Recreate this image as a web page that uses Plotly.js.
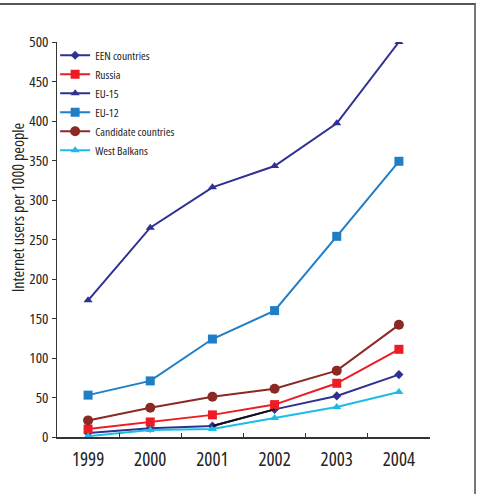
<!DOCTYPE html>
<html>
<head>
<meta charset="utf-8">
<script src="https://cdn.plot.ly/plotly-3.0.1.min.js"></script>
<style>
html,body{margin:0;padding:0;background:#fff;}
#chart{width:476px;height:491px;margin-top:3px;border-top:2px solid #555;border-right:2px solid #777;box-sizing:border-box;}
#chart text{font-stretch:condensed !important;}
</style>
</head>
<body>
<div id="chart"></div>
<script>
const years = ['1999','2000','2001','2002','2003','2004'];
const seriesNames = ['EEN countries','Russia','EU-15','EU-12','Candidate countries','West Balkans'];
const een = [5, 11, 14, 35, 52, 79];
const russia = [10, 19, 28, 41, 68, 111];
const eu15 = [173, 265, 316, 343, 397, 500];
const eu12 = [53, 71, 124, 160, 254, 349];
const candidate = [21, 37, 51, 61, 84, 142];
const westBalkans = [1, 9, 10, 24, 38, 57];
const yTicks = [0,50,100,150,200,250,300,350,400,450,500];
const yTitle = 'Internet users per 1000 people';

const FONT = '"Open Sans", sans-serif';

function tr(name, y, color, symbol, size){
  return {x: years, y: y, name: name, type:'scatter', mode:'lines+markers',
    line:{color: color, width:2}, marker:{color: color, symbol: symbol, size: size}};
}
const traces = [
  tr(seriesNames[0], een, '#2E3192', 'diamond', 7),
  tr(seriesNames[1], russia, '#ED1C24', 'square', 9),
  tr(seriesNames[2], eu15, '#2E3192', 'triangle-up', 8),
  tr(seriesNames[3], eu12, '#1F7EC6', 'square', 9),
  tr(seriesNames[4], candidate, '#8B2A25', 'circle', 10),
  tr(seriesNames[5], westBalkans, '#1CBCE4', 'triangle-up', 8),
  {x: years.slice(2,4), y: een.slice(2,4), type:'scatter', mode:'lines', line:{color:'#111', width:2}, showlegend:false, hoverinfo:'skip'}
];

const layout = {
  width: 474, height: 489,
  margin: {l: 57, r: 44, t: 37, b: 57},
  paper_bgcolor: '#fff', plot_bgcolor: '#fff',
  font: {family: FONT, color: '#222'},
  showlegend: true,
  legend: {x: -0.005, y: 1.003, xanchor: 'left', yanchor: 'top', bgcolor: 'rgba(0,0,0,0)',
    font: {family: FONT, size: 11.5, color: '#222'}, tracegroupgap: 0, itemwidth: 30},
  xaxis: {type: 'category', range: [-0.5, 5.5], showgrid: false, zeroline: false,
    showline: true, linecolor: '#333', linewidth: 1.5, ticks: 'inside', ticklen: 4, tickcolor: '#333',
    tickson: 'boundaries', ticklabelstandoff: 5,
    tickfont: {family: FONT, size: 19, color: '#222'}, fixedrange: true},
  yaxis: {range: [0, 500], tickvals: yTicks, showgrid: false, zeroline: false,
    showline: true, linecolor: '#333', linewidth: 1.5, ticks: 'outside', ticklen: 4, tickcolor: '#333',
    tickfont: {family: FONT, size: 15, color: '#222'}},
  annotations: [{text: yTitle, xref: 'paper', yref: 'paper', x: -0.105, y: 0.58,
    xanchor: 'center', yanchor: 'middle', textangle: -90, showarrow: false,
    font: {family: FONT, size: 16, color: '#222'}}]
};

Plotly.newPlot('chart', traces, layout, {displayModeBar: false, staticPlot: true});
</script>
</body>
</html>
